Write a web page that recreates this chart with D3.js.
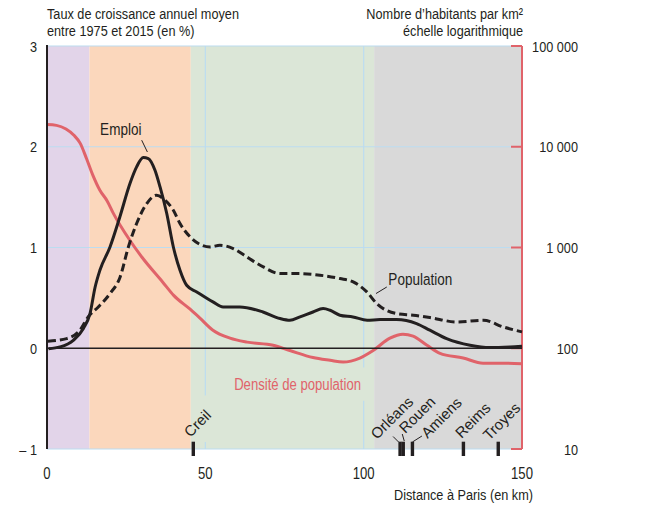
<!DOCTYPE html>
<html>
<head>
<meta charset="utf-8">
<script src="https://cdn.jsdelivr.net/npm/d3@7"></script>
<style>
  html, body { margin: 0; padding: 0; background: #fff; }
  svg { display: block; font-family: "Liberation Sans", Arial, sans-serif; }
  text { fill: #231f20; }
</style>
</head>
<body>
<div id="chart"></div>
<script>
// --- données ---
const emploiKm   = [0.5, 4.1, 8.3, 11.5, 13.6, 15.2, 16.7, 19.9, 23.0, 26.2, 28.3, 30.4, 32.0, 34.1, 35.7, 37.8, 39.9, 42.0, 44.1, 47.3, 52.4, 55.6, 60.9, 68.2, 73.6, 76.7, 79.9, 84.0, 87.2, 89.4, 92.5, 96.6, 101.1, 105.2, 110.4, 116.7, 120.9, 126.2, 133.6, 139.9, 146.2, 150];
const emploiRate = [-0.005, 0.013, 0.079, 0.196, 0.347, 0.608, 0.774, 1.005, 1.303, 1.635, 1.80, 1.893, 1.883, 1.767, 1.601, 1.34, 1.005, 0.774, 0.625, 0.559, 0.46, 0.41, 0.41, 0.36, 0.295, 0.278, 0.311, 0.36, 0.394, 0.377, 0.328, 0.311, 0.278, 0.285, 0.285, 0.245, 0.179, 0.096, 0.03, 0.007, 0.013, 0.02];

const popKm   = [0.3, 6.2, 10.4, 13.0, 16.2, 19.9, 23.1, 25.7, 28.3, 31.5, 34.6, 37.3, 39.9, 42.0, 45.2, 47.8, 51.5, 54.6, 58.8, 63.1, 68.3, 73.6, 78.9, 86.2, 92.5, 96.7, 101.0, 104.1, 110.4, 115.7, 120.9, 129.4, 137.8, 144.1, 150];
const popRate = [0.07, 0.096, 0.179, 0.311, 0.41, 0.543, 0.708, 1.005, 1.238, 1.436, 1.519, 1.469, 1.37, 1.238, 1.105, 1.039, 1.005, 1.022, 0.99, 0.906, 0.807, 0.741, 0.741, 0.725, 0.692, 0.658, 0.559, 0.444, 0.344, 0.328, 0.305, 0.261, 0.278, 0.211, 0.162];

const densKm  = [0, 3, 6, 8.5, 10.5, 12.5, 14.5, 16.7, 19, 21, 26, 30, 36.5, 40, 45.2, 48.3, 52.4, 57.8, 63.2, 71.4, 76.7, 84, 89.4, 93.5, 98.8, 103, 108.3, 112.4, 115.6, 120, 124.1, 131.4, 137.7, 144, 150];
const densHab = [16600, 16300, 15000, 13000, 10800, 7600, 5200, 3700, 2900, 2170, 1200, 800, 455, 335, 244, 199, 151, 126, 115, 107, 95, 81, 76, 73, 80, 95, 126, 138, 132, 107, 89, 80, 71, 71, 70];

const leftTicks   = [-1, 0, 1, 2, 3];
const leftLabels  = ['– 1', '0', '1', '2', '3'];
const rightTicks  = [10, 100, 1000, 10000, 100000];
const rightLabels = ['10', '100', '1 000', '10 000', '100 000'];
const xTicks      = [0, 50, 100, 150];

const bandFrom   = [0, 13.4, 45.4, 103.3];
const bandTo     = [13.4, 45.4, 103.3, 150];
const bandColors = ['#e2d4e9', '#fbd7bc', '#dbe6d7', '#d9d9d9'];

const cityNames = ['Creil', 'Orléans', 'Rouen', 'Amiens', 'Reims', 'Troyes'];
const cityKm    = [46.2, 111.5, 112.5, 115.4, 131.5, 142.5];

// --- mise en page ---
const W = 666, H = 506;
const x  = d3.scaleLinear().domain([0, 150]).range([47, 522]);
const y  = d3.scaleLinear().domain([-1, 3]).range([449, 46]);
const yR = d3.scaleLog().domain([10, 100000]).range([449, 46]);

const RED = '#e0636a', BLUE = '#bcdcf0', INK = '#231f20';
const FS = 15.5, SX = 0.82;   // police étroite simulée

const svg = d3.select('#chart').append('svg')
  .attr('width', W).attr('height', H)
  .attr('viewBox', `0 0 ${W} ${H}`);

// texte condensé horizontalement
function label(parent, px, py, str, anchor = 'start', size = FS) {
  return parent.append('text')
    .attr('transform', `translate(${px},${py}) scale(${SX},1)`)
    .attr('text-anchor', anchor)
    .attr('font-size', size)
    .text(str);
}

// bandes de fond
svg.append('g').selectAll('rect')
  .data(bandFrom)
  .join('rect')
  .attr('x', (d) => x(d))
  .attr('y', y(3))
  .attr('width', (d, i) => x(bandTo[i]) - x(d))
  .attr('height', y(-1) - y(3))
  .attr('fill', (d, i) => bandColors[i]);

// grille bleue
const grid = svg.append('g').attr('stroke', BLUE).attr('stroke-width', 1.2);
grid.selectAll('line.h')
  .data(leftTicks.filter(d => d !== 0))
  .join('line').attr('class', 'h')
  .attr('x1', x(0)).attr('x2', x(150))
  .attr('y1', d => y(d)).attr('y2', d => y(d));
// verticales (interrompues sous les étiquettes)
const vSegs = [[50, 3, -0.47], [50, -0.93, -1], [100, 3, -0.19], [100, -0.52, -1]];
grid.selectAll('line.v')
  .data(vSegs)
  .join('line').attr('class', 'v')
  .attr('x1', d => x(d[0])).attr('x2', d => x(d[0]))
  .attr('y1', d => y(d[1])).attr('y2', d => y(d[2]));

// axe droit (rouge)
svg.append('line')
  .attr('x1', x(150)).attr('x2', x(150))
  .attr('y1', y(3)).attr('y2', y(-1))
  .attr('stroke', RED).attr('stroke-width', 2);
svg.append('g').selectAll('line')
  .data(rightTicks)
  .join('line')
  .attr('x1', x(150) - 11).attr('x2', x(150))
  .attr('y1', d => yR(d)).attr('y2', d => yR(d))
  .attr('stroke', RED).attr('stroke-width', 2);

// courbes
const line = d3.line().curve(d3.curveMonotoneX);

svg.append('path')
  .attr('d', line(densKm.map((k, i) => [x(k), yR(densHab[i])])))
  .attr('fill', 'none').attr('stroke', RED).attr('stroke-width', 3);

svg.append('path')
  .attr('d', line(popKm.map((k, i) => [x(k), y(popRate[i])])))
  .attr('fill', 'none').attr('stroke', INK).attr('stroke-width', 3)
  .attr('stroke-dasharray', '8,4');

svg.append('path')
  .attr('d', line(emploiKm.map((k, i) => [x(k), y(emploiRate[i])])))
  .attr('fill', 'none').attr('stroke', INK).attr('stroke-width', 3)
  .attr('stroke-linejoin', 'round');

// ligne du zéro + axe gauche
svg.append('line')
  .attr('x1', x(0)).attr('x2', x(150))
  .attr('y1', y(0)).attr('y2', y(0))
  .attr('stroke', INK).attr('stroke-width', 1.6);
svg.append('line')
  .attr('x1', x(0)).attr('x2', x(0))
  .attr('y1', y(3) - 1).attr('y2', y(-1))
  .attr('stroke', INK).attr('stroke-width', 2);

// étiquettes des axes
const axisText = svg.append('g');
leftTicks.forEach((d, i) => label(axisText, 37, y(d) + 5.5, leftLabels[i], 'end'));
rightTicks.forEach((d, i) => label(axisText, 578, yR(d) + 5.5, rightLabels[i], 'end'));
xTicks.forEach(d => label(axisText, x(d), 479, d, 'middle', 16));
label(axisText, 533, 500, 'Distance à Paris (en km)', 'end');

// titres
label(svg, 47, 19, 'Taux de croissance annuel moyen');
label(svg, 47, 36, 'entre 1975 et 2015 (en %)');
label(svg, 523, 19, 'Nombre d’habitants par km²', 'end');
label(svg, 523, 36, 'échelle logarithmique', 'end');

// étiquettes des séries
label(svg, x(23.3), y(2.12), 'Emploi', 'middle', 16.5);
svg.append('line')
  .attr('x1', x(29.9)).attr('y1', y(2.065))
  .attr('x2', x(31.7)).attr('y2', y(1.948))
  .attr('stroke', INK).attr('stroke-width', 1);

label(svg, x(107.8), y(0.625), 'Population', 'start', 16.5);
svg.append('line')
  .attr('x1', x(107.3)).attr('y1', y(0.608))
  .attr('x2', x(103.9)).attr('y2', y(0.543))
  .attr('stroke', INK).attr('stroke-width', 1);

label(svg, x(59.1), y(-0.41), 'Densité de population', 'start', 16)
  .style('fill', RED);

// villes
const labelOff = [[-3, -11], [-23, -9], [2, -15], [15, -10], [-2, -10], [-9, -8]];
const base = y(-1);
const cities = svg.append('g');
cities.selectAll('rect')
  .data(cityKm)
  .join('rect')
  .attr('x', d => x(d) - 1.7)
  .attr('y', base - 7.3)
  .attr('width', 3.4)
  .attr('height', 14.3)
  .attr('fill', INK);
cities.selectAll('text')
  .data(cityKm)
  .join('text')
  .attr('transform', (d, i) => `translate(${x(d) + labelOff[i][0]},${base + labelOff[i][1]}) rotate(-45)`)
  .attr('font-size', 15)
  .text((d, i) => cityNames[i]);
// traits de rappel : [ville, x1, y1, x2, y2] relatifs au repère
const leaders = [[1, -7, -12.5, -1.5, -7], [2, -1, -15, 1, -8], [3, 0, -7, 9.5, -13]];
cities.selectAll('line')
  .data(leaders)
  .join('line')
  .attr('x1', d => x(cityKm[d[0]]) + d[1]).attr('y1', d => base + d[2])
  .attr('x2', d => x(cityKm[d[0]]) + d[3]).attr('y2', d => base + d[4])
  .attr('stroke', INK).attr('stroke-width', 1);
</script>
</body>
</html>
